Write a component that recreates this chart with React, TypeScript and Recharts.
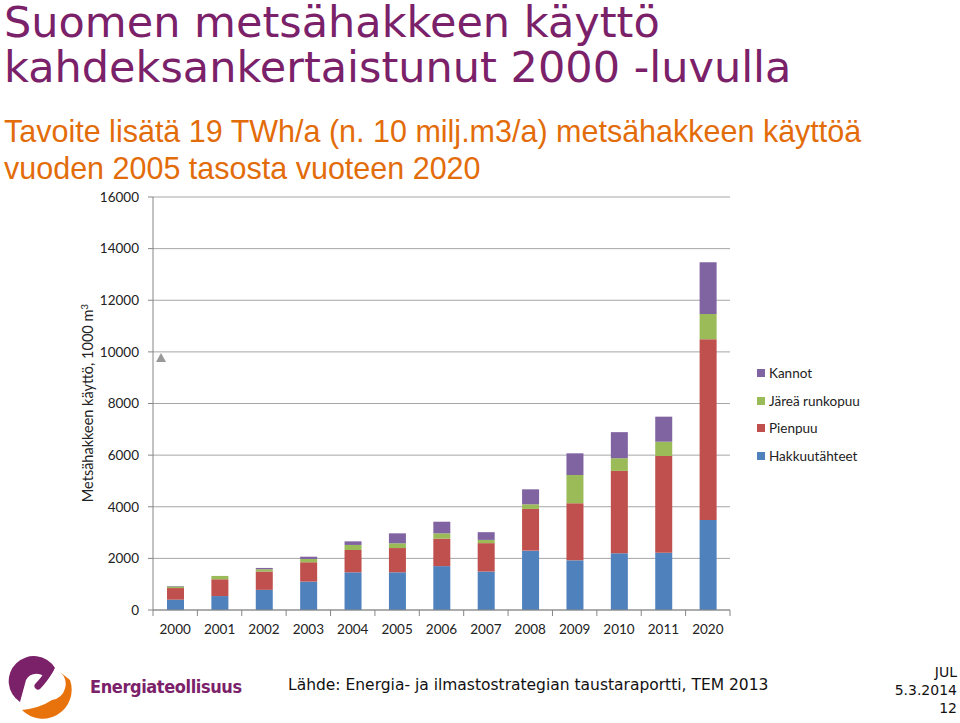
import { BarChart, Bar, XAxis, YAxis, CartesianGrid } from "recharts";

const years = ["2000", "2001", "2002", "2003", "2004", "2005", "2006", "2007", "2008", "2009", "2010", "2011", "2020"];
const hakkuutahteet = [400, 540, 780, 1100, 1460, 1460, 1700, 1490, 2300, 1925, 2200, 2220, 3485];
const pienpuu = [450, 650, 710, 750, 865, 940, 1065, 1100, 1615, 2210, 3190, 3745, 7005];
const jarea = [60, 130, 90, 125, 195, 185, 205, 125, 180, 1095, 490, 555, 980];
const kannot = [20, 0, 50, 90, 140, 385, 450, 300, 580, 840, 1010, 970, 2000];
const yTicks = [0, 2000, 4000, 6000, 8000, 10000, 12000, 14000, 16000];

const series = [
  { key: "hakkuutahteet", name: "Hakkuutähteet", color: "#4F81BD" },
  { key: "pienpuu", name: "Pienpuu", color: "#C0504D" },
  { key: "jarea", name: "Järeä runkopuu", color: "#9BBB59" },
  { key: "kannot", name: "Kannot", color: "#8064A2" },
];

const data = years.map((year, i) => ({
  year,
  hakkuutahteet: hakkuutahteet[i],
  pienpuu: pienpuu[i],
  jarea: jarea[i],
  kannot: kannot[i],
}));

const FONT = "Lato, 'Open Sans', sans-serif";

function XTick(props: any) {
  const { x, y, payload } = props;
  const off = payload.offset || 0;
  return (
    <g>
      <line x1={x - off} y1={y - 8} x2={x - off} y2={y - 2} stroke="#868686" />
      {payload.index === years.length - 1 && (
        <line x1={x + off} y1={y - 8} x2={x + off} y2={y - 2} stroke="#868686" />
      )}
      <text x={x} y={y + 16} textAnchor="middle" fill="#222" fontSize={13.5} fontFamily={FONT}>
        {payload.value}
      </text>
    </g>
  );
}

export default function App() {
  return (
    <div style={{ position: "absolute", left: 0, top: 0, width: 960, height: 723, background: "#fff", overflow: "hidden" }}>
      <div style={{ position: "absolute", left: 4, top: 0, fontFamily: "'DejaVu Sans', Verdana, sans-serif", fontSize: 43, lineHeight: "45px", color: "#7B2169", whiteSpace: "nowrap" }}>
        Suomen metsähakkeen käyttö
        <br />
        kahdeksankertaistunut 2000 -luvulla
      </div>
      <div style={{ position: "absolute", left: 4, top: 113, fontFamily: "'Liberation Sans', Arial, sans-serif", fontSize: 30.5, lineHeight: "37px", color: "#E36C0A", whiteSpace: "nowrap" }}>
        Tavoite lisätä 19 TWh/a (n. 10 milj.m3/a) metsähakkeen käyttöä
        <br />
        vuoden 2005 tasosta vuoteen 2020
      </div>

      <div style={{ position: "absolute", left: 0, top: 0 }}>
        <BarChart
          width={960}
          height={723}
          data={data}
          margin={{ top: 197, right: 230, left: 93, bottom: 83 }}
          barSize={17}
        >
          <CartesianGrid vertical={false} stroke="#A6A6A6" />
          <XAxis
            dataKey="year"
            stroke="#868686"
            tickLine={false}
            tick={<XTick />}
            height={30}
            interval={0}
          />
          <YAxis
            domain={[0, 16000]}
            ticks={yTicks}
            width={60}
            stroke="#868686"
            tickSize={5}
            tick={{ fill: "#222", fontSize: 13.5, fontFamily: FONT }}
            tickMargin={9}
          />
          {series.map((s) => (
            <Bar key={s.key} dataKey={s.key} name={s.name} stackId="a" fill={s.color} isAnimationActive={false} />
          ))}
        </BarChart>
      </div>

      <div style={{ position: "absolute", left: 87, top: 403, transform: "translate(-50%, -50%) rotate(-90deg)", fontFamily: FONT, fontSize: 14.5, color: "#222", whiteSpace: "nowrap" }}>
        Metsähakkeen käyttö, 1000 m<sup style={{ fontSize: 10 }}>3</sup>
      </div>

      <svg style={{ position: "absolute", left: 155, top: 351 }} width={12} height={12}>
        <polygon points="1,11 6,2 11,11" fill="#999" />
      </svg>

      <div style={{ position: "absolute", left: 757, top: 359 }}>
        {[...series].reverse().map((s) => (
          <div key={s.key} style={{ display: "flex", alignItems: "center", height: 27.7, fontFamily: FONT, fontSize: 13.5, color: "#222" }}>
            <span style={{ display: "inline-block", width: 8, height: 8, background: s.color, marginRight: 4 }} />
            {s.name}
          </div>
        ))}
      </div>

      <svg style={{ position: "absolute", left: 0, top: 650 }} width={90} height={73}>
        <path d="M 20 52 A 25 25 0 1 1 55 18 L 47 30 A 12 12 0 0 0 26 30 Z" fill="#7B2169" />
        <path d="M 70 30 A 29 29 0 0 1 22 60 Q 40 58 52 50 A 16 16 0 0 0 60 22 Z" fill="#E8720C" />
        <path d="M 50 20 Q 44 30 38 36" stroke="#7B2169" strokeWidth={7} fill="none" strokeLinecap="round" />
      </svg>
      <div style={{ position: "absolute", left: 90, top: 676, fontFamily: "'DejaVu Sans Condensed', 'DejaVu Sans', sans-serif", fontWeight: "bold", fontSize: 18, color: "#7B2169", whiteSpace: "nowrap", letterSpacing: -0.4 }}>
        Energiateollisuus
      </div>
      <div style={{ position: "absolute", left: 288, top: 676, fontFamily: "'DejaVu Sans', Verdana, sans-serif", fontSize: 15.5, color: "#111", whiteSpace: "nowrap" }}>
        Lähde: Energia- ja ilmastostrategian taustaraportti, TEM 2013
      </div>
      <div style={{ position: "absolute", right: 3, top: 663, textAlign: "right", fontFamily: "'DejaVu Sans', Verdana, sans-serif", fontSize: 14, lineHeight: "18px", color: "#111" }}>
        JUL
        <br />
        5.3.2014
        <br />
        12
      </div>
    </div>
  );
}
